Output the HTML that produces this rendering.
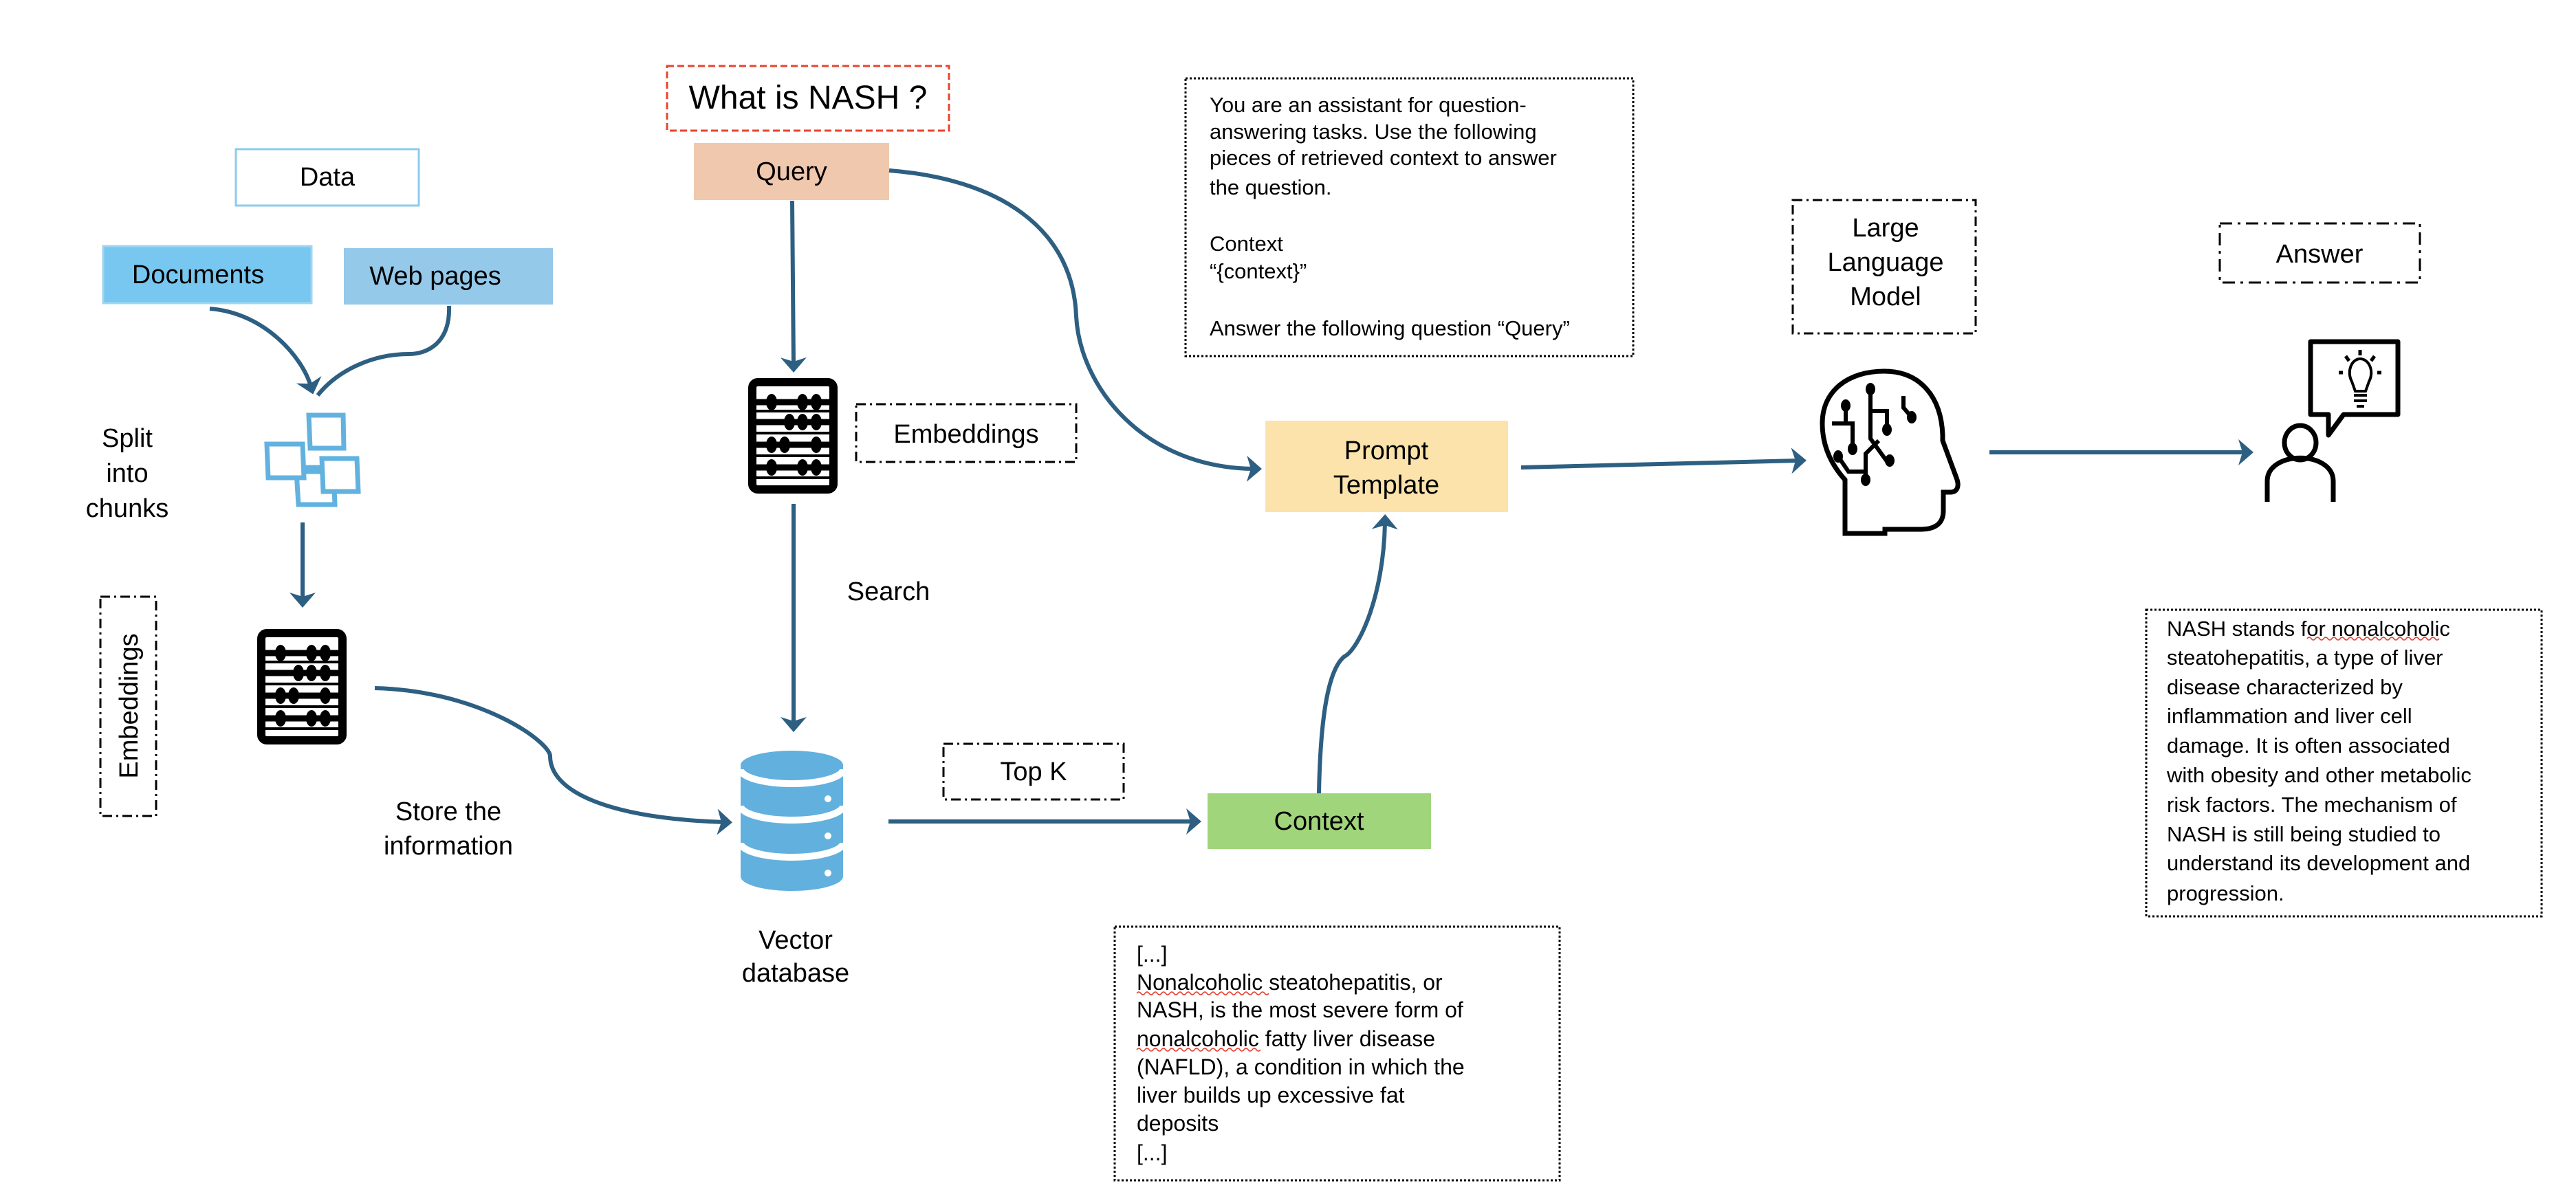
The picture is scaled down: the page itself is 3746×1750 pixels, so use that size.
<!DOCTYPE html>
<html><head><meta charset="utf-8"><style>
html,body{margin:0;padding:0;background:#fff;}
svg{display:block;}
text{font-family:"Liberation Sans",sans-serif;fill:#000;}
</style></head><body>
<svg width="3746" height="1750" viewBox="0 0 3746 1750" xmlns="http://www.w3.org/2000/svg">
<defs>
<marker id="ah" markerWidth="10" markerHeight="10" refX="6" refY="5" orient="auto" markerUnits="userSpaceOnUse" viewBox="0 0 10 10" style="overflow:visible">
<path d="M-4,-14 L18,5 L-4,24 L2,5 Z" fill="#2D5F82"/>
</marker>
<g id="abacus">
<rect x="6" y="6" width="118" height="156" rx="8" fill="none" stroke="#000" stroke-width="12"/>
<g stroke="#000" stroke-width="9">
<line x1="6" y1="35" x2="124" y2="35"/><line x1="6" y1="64" x2="124" y2="64"/>
<line x1="6" y1="97" x2="124" y2="97"/><line x1="6" y1="130" x2="124" y2="130"/>
</g>
<g fill="#000" stroke="none">
<line x1="6" y1="48" x2="124" y2="48" stroke="#000" stroke-width="4"/>
<line x1="6" y1="80" x2="124" y2="80" stroke="#000" stroke-width="4"/>
<line x1="6" y1="113" x2="124" y2="113" stroke="#000" stroke-width="4"/>
<line x1="6" y1="145" x2="124" y2="145" stroke="#000" stroke-width="4"/>
<ellipse cx="34" cy="35" rx="8" ry="12"/><ellipse cx="79" cy="35" rx="8" ry="12"/><ellipse cx="99" cy="35" rx="8" ry="12"/>
<ellipse cx="60" cy="64" rx="8" ry="12"/><ellipse cx="79" cy="64" rx="8" ry="12"/><ellipse cx="99" cy="64" rx="8" ry="12"/>
<ellipse cx="34" cy="97" rx="8" ry="12"/><ellipse cx="53" cy="97" rx="8" ry="12"/><ellipse cx="99" cy="97" rx="8" ry="12"/>
<ellipse cx="34" cy="130" rx="8" ry="12"/><ellipse cx="79" cy="130" rx="8" ry="12"/><ellipse cx="99" cy="130" rx="8" ry="12"/>
</g>
</g>
</defs>

<rect x="970" y="96" width="410" height="94" fill="#fff" stroke="#E8442C" stroke-width="3" stroke-dasharray="10,5"/>
<text x="1175" y="158" font-size="48" text-anchor="middle">What is NASH ?</text>

<rect x="343" y="217" width="266" height="82" fill="#fff" stroke="#8CCBEC" stroke-width="3"/>
<text x="476" y="270" font-size="38" text-anchor="middle">Data</text>

<rect x="150" y="358" width="303" height="83" fill="#78C7F0" stroke="#9ED6F2" stroke-width="3"/>
<text x="288" y="412" font-size="38" text-anchor="middle">Documents</text>
<rect x="500" y="361" width="304" height="82" fill="#94C9EA"/>
<text x="633" y="414" font-size="38" text-anchor="middle">Web pages</text>

<rect x="1009" y="208" width="284" height="83" fill="#F0C8AD"/>
<text x="1151" y="262" font-size="38" text-anchor="middle">Query</text>

<g fill="none" stroke="#2D5F82" stroke-width="6">
<path d="M305,449 C385,455 440,520 452,562" marker-end="url(#ah)"/>
<path d="M653,445 C655,500 620,515 595,515 C540,515 490,540 462,575" />
<path d="M1152,292 L1154,530" marker-end="url(#ah)"/>
<path d="M440,760 L440,872" marker-end="url(#ah)"/>
<path d="M1154,733 L1154,1053" marker-end="url(#ah)"/>
<path d="M545,1001 C700,1005 800,1080 800,1100 C800,1150 880,1190 1053,1196" marker-end="url(#ah)"/>
<path d="M1292,1195 L1735,1195" marker-end="url(#ah)"/>
<path d="M1918,1154 C1920,1050 1930,975 1955,955 C1975,945 2012,870 2014,760" marker-end="url(#ah)"/>
<path d="M1293,248 C1450,260 1560,330 1565,460 C1570,560 1660,680 1823,682" marker-end="url(#ah)"/>
<path d="M2212,680 L2615,670" marker-end="url(#ah)"/>
<path d="M2893,658 L3265,658" marker-end="url(#ah)"/>
</g>

<text font-size="38" text-anchor="middle"><tspan x="185" y="650">Split</tspan><tspan x="185" y="701">into</tspan><tspan x="185" y="752">chunks</tspan></text>
<g fill="#fff" stroke="#62B2E0" stroke-width="7">
<path d="M449,604 L499,604 L500,652 L451,652 Z"/>
<path d="M431,686 L485,686 L487,734 L434,734 Z"/>
<path d="M388,646 L440,646 L442,695 L390,695 Z"/>
<path d="M468,667 L519,667 L521,715 L470,715 Z"/>
<line x1="442" y1="680" x2="468" y2="680"/>
</g>

<use href="#abacus" x="1088" y="550"/>
<use href="#abacus" x="374" y="915"/>

<rect x="1245" y="588" width="320" height="84" fill="none" stroke="#000" stroke-width="3" stroke-dasharray="14,6,3,6"/>
<text x="1405" y="644" font-size="38" text-anchor="middle">Embeddings</text>
<rect x="146" y="868" width="81" height="319" fill="none" stroke="#000" stroke-width="3" stroke-dasharray="14,6,3,6"/>
<text transform="translate(200,1027) rotate(-90)" font-size="38" text-anchor="middle">Embeddings</text>

<text x="1292" y="873" font-size="38" text-anchor="middle">Search</text>
<text font-size="38" text-anchor="middle"><tspan x="652" y="1193">Store the</tspan><tspan x="652" y="1243">information</tspan></text>

<g>
<rect x="1077" y="1113" width="149" height="162" fill="#62B0DE"/>
<ellipse cx="1151.5" cy="1113" rx="74.5" ry="21" fill="#62B0DE"/>
<ellipse cx="1151.5" cy="1275" rx="74.5" ry="21" fill="#62B0DE"/>
<g fill="none" stroke="#fff" stroke-width="10">
<path d="M1077,1119 A74.5,21 0 0 0 1226,1119"/>
<path d="M1077,1172 A74.5,21 0 0 0 1226,1172"/>
<path d="M1077,1226 A74.5,21 0 0 0 1226,1226"/>
</g>
<circle cx="1204" cy="1162" r="5" fill="#fff"/><circle cx="1204" cy="1216" r="5" fill="#fff"/><circle cx="1204" cy="1270" r="5" fill="#fff"/>
</g>
<text font-size="38" text-anchor="middle"><tspan x="1157" y="1380">Vector</tspan><tspan x="1157" y="1428">database</tspan></text>

<rect x="1372" y="1082" width="262" height="81" fill="none" stroke="#000" stroke-width="3" stroke-dasharray="14,6,3,6"/>
<text x="1503" y="1135" font-size="38" text-anchor="middle">Top K</text>

<rect x="1756" y="1154" width="325" height="81" fill="#A0D57C"/>
<text x="1918" y="1207" font-size="38" text-anchor="middle">Context</text>

<rect x="1840" y="612" width="353" height="133" fill="#FBE3AB"/>
<text font-size="38" text-anchor="middle"><tspan x="2016" y="668">Prompt</tspan><tspan x="2016" y="718">Template</tspan></text>

<rect x="1724" y="114" width="651" height="404" fill="none" stroke="#000" stroke-width="3" stroke-dasharray="3,3"/>
<text font-size="31"><tspan x="1759" y="163">You are an assistant for question-</tspan><tspan x="1759" y="202">answering tasks. Use the following</tspan><tspan x="1759" y="240">pieces of retrieved context to answer</tspan><tspan x="1759" y="283">the question.</tspan><tspan x="1759" y="365">Context</tspan><tspan x="1759" y="405">“{context}”</tspan><tspan x="1759" y="488">Answer the following question “Query”</tspan></text>

<rect x="1621" y="1348" width="647" height="369" fill="none" stroke="#000" stroke-width="3" stroke-dasharray="3,3"/>
<text font-size="32"><tspan x="1653" y="1399">[...]</tspan><tspan x="1653" y="1440">Nonalcoholic steatohepatitis, or</tspan><tspan x="1653" y="1480">NASH, is the most severe form of</tspan><tspan x="1653" y="1522">nonalcoholic fatty liver disease</tspan><tspan x="1653" y="1563">(NAFLD), a condition in which the</tspan><tspan x="1653" y="1604">liver builds up excessive fat</tspan><tspan x="1653" y="1645">deposits</tspan><tspan x="1653" y="1688">[...]</tspan></text>
<path d="M1653,1445 q3,-4 6,0 t6,0 t6,0 t6,0 t6,0 t6,0 t6,0 t6,0 t6,0 t6,0 t6,0 t6,0 t6,0 t6,0 t6,0 t6,0 t6,0 t6,0 t6,0 t6,0 t6,0 t6,0 t6,0 t6,0 t6,0 t6,0 t6,0 t6,0 t6,0 t6,0 t6,0 t6,0" fill="none" stroke="#E83B2C" stroke-width="1.5"/>
<path d="M1653,1527 q3,-4 6,0 t6,0 t6,0 t6,0 t6,0 t6,0 t6,0 t6,0 t6,0 t6,0 t6,0 t6,0 t6,0 t6,0 t6,0 t6,0 t6,0 t6,0 t6,0 t6,0 t6,0 t6,0 t6,0 t6,0 t6,0 t6,0 t6,0 t6,0 t6,0 t6,0" fill="none" stroke="#E83B2C" stroke-width="1.5"/>

<rect x="2607" y="291" width="266" height="194" fill="none" stroke="#000" stroke-width="3" stroke-dasharray="14,6,3,6"/>
<text font-size="38" text-anchor="middle"><tspan x="2742" y="344">Large</tspan><tspan x="2742" y="394">Language</tspan><tspan x="2742" y="444">Model</tspan></text>
<g transform="translate(2648,538)" fill="none" stroke="#000" stroke-width="7">
<path d="M35,238 L35,160 C8,130 2,100 2,78 C2,30 40,2 92,2 C145,2 175,40 177,95 L177,103 L197,157 C202,170 198,178 188,178 L178,178 L178,205 C178,222 168,232 145,232 L93,232 L93,238 Z"/>
</g>
<g transform="translate(2648,538)" fill="#000">
<ellipse cx="72" cy="28" rx="7" ry="9"/><ellipse cx="36" cy="52" rx="7" ry="9"/>
<ellipse cx="96" cy="87" rx="7" ry="9"/><ellipse cx="46" cy="115" rx="7" ry="9"/>
<ellipse cx="100" cy="132" rx="7" ry="9"/><ellipse cx="25" cy="126" rx="7" ry="9"/>
<ellipse cx="65" cy="160" rx="7" ry="9"/><ellipse cx="132" cy="69" rx="7" ry="9"/>
</g>
<g transform="translate(2648,538)" fill="none" stroke="#000" stroke-width="6">
<path d="M72,28 L72,100 L98,136"/><path d="M72,60 L96,60 L96,87"/>
<path d="M36,52 L36,78 L16,78 M36,78 L46,78 L46,115"/>
<path d="M25,126 L40,148 L65,148 L65,160 M65,148 L65,122 L84,103"/>
<path d="M120,38 L120,55 L132,69"/>
</g>

<rect x="3228" y="325" width="291" height="86" fill="none" stroke="#000" stroke-width="3" stroke-dasharray="18,8,4,8"/>
<text x="3373" y="382" font-size="38" text-anchor="middle">Answer</text>
<g fill="none" stroke="#000" stroke-width="7">
<path d="M3360,497 L3487,497 L3487,603 L3408,603 L3386,633 L3386,603 L3360,603 Z" stroke-linejoin="round"/>
<ellipse cx="3345" cy="644" rx="23" ry="25"/>
<path d="M3297,730 L3297,700 C3297,655 3393,655 3393,700 L3393,730"/>
<path d="M3423,575 L3442,575 M3423,583 L3442,583 M3427,591 L3438,591" stroke-width="4"/>
<path d="M3425,569 L3420,555 C3412,540 3420,522 3432,522 C3445,522 3453,540 3445,555 L3440,569 Z" stroke-width="4"/>
<path d="M3432,509 L3432,517 M3411,518 L3416,525 M3453,518 L3448,525 M3401,542 L3407,542 M3457,542 L3463,542" stroke-width="5"/>
</g>

<rect x="3121" y="887" width="575" height="446" fill="none" stroke="#000" stroke-width="3" stroke-dasharray="3,3"/>
<text font-size="31"><tspan x="3151" y="925">NASH stands for nonalcoholic</tspan><tspan x="3151" y="967">steatohepatitis, a type of liver</tspan><tspan x="3151" y="1010">disease characterized by</tspan><tspan x="3151" y="1052">inflammation and liver cell</tspan><tspan x="3151" y="1095">damage. It is often associated</tspan><tspan x="3151" y="1138">with obesity and other metabolic</tspan><tspan x="3151" y="1181">risk factors. The mechanism of</tspan><tspan x="3151" y="1224">NASH is still being studied to</tspan><tspan x="3151" y="1266">understand its development and</tspan><tspan x="3151" y="1310">progression.</tspan></text>
<path d="M3355,929 q3,-4 6,0 t6,0 t6,0 t6,0 t6,0 t6,0 t6,0 t6,0 t6,0 t6,0 t6,0 t6,0 t6,0 t6,0 t6,0 t6,0 t6,0 t6,0 t6,0 t6,0 t6,0 t6,0 t6,0 t6,0 t6,0 t6,0 t6,0 t6,0 t6,0 t6,0 t6,0 t6,0" fill="none" stroke="#E83B2C" stroke-width="1.5"/>
</svg>
</body></html>
